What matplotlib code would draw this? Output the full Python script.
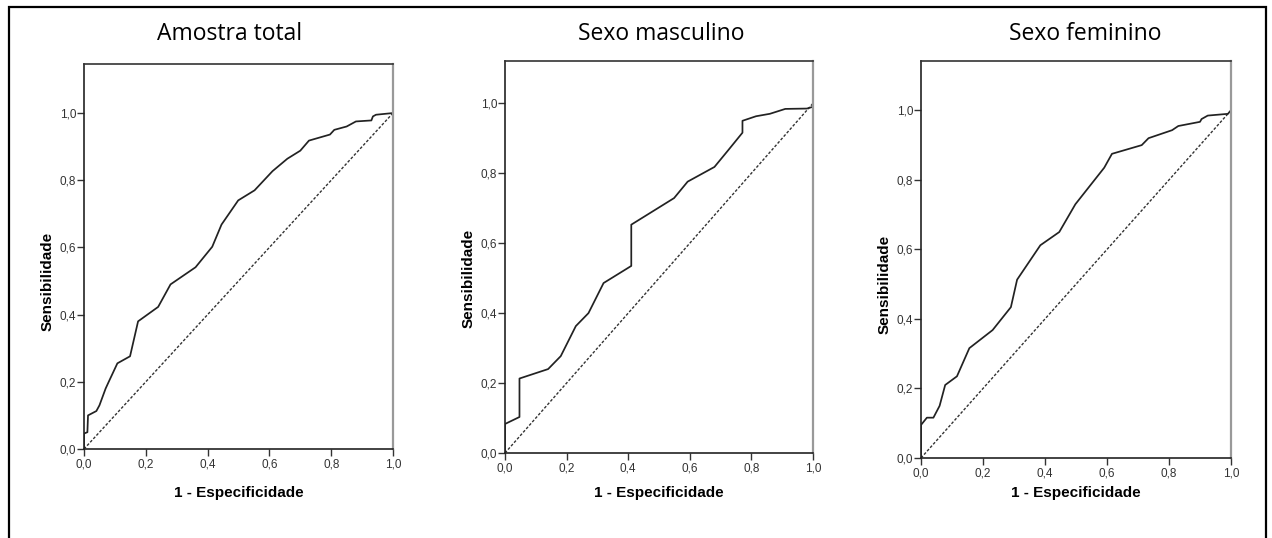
import matplotlib
matplotlib.use("Agg")
import matplotlib.pyplot as plt
from matplotlib.patches import Rectangle

W, H = 1272, 538

titles = ["Amostra total", "Sexo masculino", "Sexo feminino"]

# curva ROC - amostra total
x_total = [0.0, 0.0, 0.011, 0.013, 0.04, 0.05, 0.07, 0.08, 0.108, 0.149, 0.175,
           0.24, 0.28, 0.361, 0.415, 0.445, 0.499, 0.552, 0.61, 0.658, 0.70,
           0.728, 0.796, 0.81, 0.85, 0.88, 0.93, 0.935, 0.945, 1.0]
y_total = [0.0, 0.046, 0.05, 0.10, 0.113, 0.13, 0.18, 0.20, 0.255, 0.276, 0.38,
           0.423, 0.49, 0.541, 0.602, 0.668, 0.74, 0.77, 0.827, 0.864, 0.888,
           0.918, 0.936, 0.95, 0.96, 0.975, 0.978, 0.99, 0.995, 1.0]

# sexo masculino
x_masc = [0.0, 0.0, 0.047, 0.047, 0.14, 0.181, 0.23, 0.271, 0.32, 0.41, 0.41,
          0.549, 0.593, 0.68, 0.723, 0.771, 0.771, 0.815, 0.86, 0.91, 0.98, 1.0, 1.0]
y_masc = [0.0, 0.083, 0.103, 0.213, 0.24, 0.277, 0.363, 0.40, 0.486, 0.535, 0.653,
          0.729, 0.776, 0.818, 0.864, 0.916, 0.95, 0.963, 0.97, 0.984, 0.985, 0.99, 1.0]

# sexo feminino
x_fem = [0.0, 0.0, 0.019, 0.04, 0.06, 0.078, 0.116, 0.156, 0.231, 0.29, 0.31,
         0.385, 0.446, 0.498, 0.591, 0.616, 0.712, 0.734, 0.81, 0.83, 0.90,
         0.905, 0.925, 0.99, 1.0]
y_fem = [0.0, 0.095, 0.116, 0.116, 0.15, 0.21, 0.235, 0.316, 0.368, 0.434, 0.513,
         0.612, 0.65, 0.73, 0.835, 0.875, 0.90, 0.92, 0.943, 0.955, 0.967,
         0.975, 0.985, 0.99, 1.0]

curves = [(x_total, y_total), (x_masc, y_masc), (x_fem, y_fem)]
ticks = [0.0, 0.2, 0.4, 0.6, 0.8, 1.0]
tick_labels = ["0,0", "0,2", "0,4", "0,6", "0,8", "1,0"]

# caixas dos eixos em pixels: esquerda, direita, topo, base, ylim superior, centro do titulo
boxes = [(84, 393, 64, 449, 1.146, 230),
         (505, 813, 61, 453, 1.121, 661),
         (921, 1231, 61, 458, 1.142, 1085)]
xlabel_top = 486
title_y = 34

fig = plt.figure(figsize=(W / 100, H / 100), dpi=100)

# moldura externa
fig.patches.append(Rectangle((9 / W, -0.05), (1266 - 9) / W, 1.05 - 7 / H,
                             transform=fig.transFigure, fill=False,
                             edgecolor="black", linewidth=1.6))

for (l, r, t, b, ytop, tx), (xs, ys), title in zip(boxes, curves, titles):
    ax = fig.add_axes([l / W, (H - b) / H, (r - l) / W, (b - t) / H])
    ax.plot([0, 1], [0, 1], color="#333333", linewidth=1.0,
            linestyle=(0, (2, 1.3)))
    ax.plot(xs, ys, color="#222222", linewidth=1.25)
    ax.set_xlim(0, 1)
    ax.set_ylim(0, ytop)
    ax.set_xticks(ticks)
    ax.set_xticklabels(tick_labels)
    ax.set_yticks(ticks)
    ax.set_yticklabels(tick_labels)
    ax.tick_params(direction="out", length=5, width=1, color="#333333",
                   labelsize=8.5, labelcolor="#333333")
    ax.tick_params(axis="y", pad=0.6)
    ax.tick_params(axis="x", pad=1.8)
    for lab in ax.get_xticklabels() + ax.get_yticklabels():
        lab.set_family("Liberation Sans")
    for s in ax.spines.values():
        s.set_linewidth(1.2)
    ax.spines["left"].set_color("#222222")
    ax.spines["bottom"].set_color("#222222")
    ax.spines["top"].set_color("#333333")
    ax.spines["right"].set_color("#999999")
    ax.spines["right"].set_linewidth(1.6)
    ax.set_xlabel("1 - Especificidade", family="Liberation Sans",
                  fontweight="bold", fontsize=11)
    ax.set_ylabel("Sensibilidade", family="Liberation Sans",
                  fontweight="bold", fontsize=11)
    ax.xaxis.set_label_coords(0.5, -(xlabel_top - b) / (b - t))
    ax.yaxis.set_label_coords(-29 / (r - l), 0.5 / ytop)
    fig.text(tx / W, 1 - title_y / H, title, family="Open Sans",
             fontsize=16.5, ha="center", va="center")

fig.savefig("out.png", dpi=100)
